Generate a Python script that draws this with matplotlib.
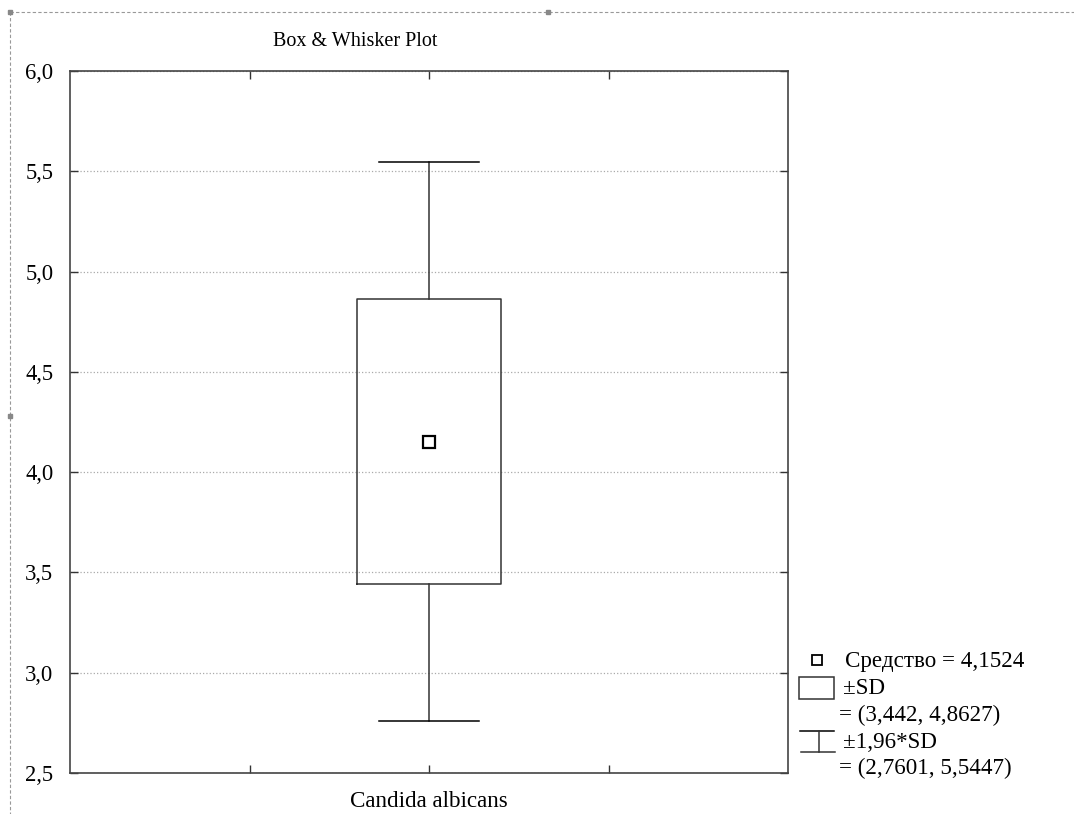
import matplotlib.pyplot as plt
from matplotlib.lines import Line2D
from matplotlib.patches import Rectangle
from matplotlib.ticker import FuncFormatter

# data
group = 'Candida albicans'
mean_val = 4.1524
sd_low, sd_high = 3.442, 4.8627
ci_low, ci_high = 2.7601, 5.5447
y_ticks = [2.5, 3.0, 3.5, 4.0, 4.5, 5.0, 5.5, 6.0]

plt.rcParams['font.family'] = ['Liberation Serif', 'DejaVu Serif']
fs = 14.5
fs_big = 16.6
dark = '#333333'

fig = plt.figure(figsize=(10.74, 8.14), dpi=100)
ax = fig.add_axes([70 / 1074, 1 - 773 / 814, 718 / 1074, 702 / 814])

stats = [{'med': mean_val, 'mean': mean_val, 'q1': sd_low, 'q3': sd_high,
          'whislo': ci_low, 'whishi': ci_high, 'label': group}]
ax.bxp(stats, positions=[2], widths=0.8, showmeans=True, showfliers=False,
       capwidths=0.56,
       boxprops=dict(color=dark, linewidth=1.1),
       whiskerprops=dict(color=dark, linewidth=1.1),
       capprops=dict(color='black', linewidth=1.1),
       medianprops=dict(linewidth=0),
       meanprops=dict(marker='s', markersize=8, markerfacecolor='white',
                      markeredgecolor='black', markeredgewidth=1.6))

ax.set_xlim(0, 4)
ax.set_ylim(2.5, 6.0)
ax.set_yticks(y_ticks)
ax.yaxis.set_major_formatter(FuncFormatter(lambda v, p: f'{v:.1f}'.replace('.', ',')))
ax.set_xticks([1, 2, 3])
ax.set_xticklabels(['', group, ''])
ax.tick_params(axis='both', direction='in', length=6, width=1, color=dark,
               top=True, right=True)
ax.tick_params(axis='y', labelsize=16.3, pad=12)
ax.tick_params(axis='x', labelsize=fs_big, pad=13)
for s in ax.spines.values():
    s.set_color('#444444')
    s.set_linewidth(1.2)
ax.yaxis.grid(True, linestyle=':', color='#aaaaaa', linewidth=0.9)
ax.set_axisbelow(True)

fig.text(355 / 1074, 1 - 42 / 814, 'Box & Whisker Plot', ha='center', va='center', fontsize=fs)

# legend drawn at the right
def fx(x):
    return x / 1074

def fy(y):
    return 1 - y / 814

fig.add_artist(Line2D([fx(817)], [fy(660)], marker='s', markersize=7,
                      markerfacecolor='white', markeredgecolor='black',
                      markeredgewidth=1.3, transform=fig.transFigure))
fig.add_artist(Rectangle((fx(799), fy(699)), fx(834) - fx(799), fy(677) - fy(699),
                         fill=False, edgecolor=dark, linewidth=1.1,
                         transform=fig.transFigure))
fig.add_artist(Line2D([fx(800), fx(834)], [fy(731), fy(731)], color='black', lw=1.1,
                      transform=fig.transFigure))
fig.add_artist(Line2D([fx(801), fx(835)], [fy(752), fy(752)], color=dark, lw=1.1,
                      transform=fig.transFigure))
fig.add_artist(Line2D([fx(819), fx(819)], [fy(731), fy(752)], color=dark, lw=1.1,
                      transform=fig.transFigure))

fmt = lambda v: f'{v}'.replace('.', ',')
fig.text(fx(845), fy(662), f'Средство = {fmt(mean_val)}', va='center', fontsize=fs_big)
fig.text(fx(843), fy(688), '±SD', va='center', fontsize=fs_big)
fig.text(fx(839), fy(715), f'= ({fmt(sd_low)}, {fmt(sd_high)})', va='center', fontsize=fs_big)
fig.text(fx(843), fy(742), '±1,96*SD', va='center', fontsize=fs_big)
fig.text(fx(839), fy(768), f'= ({fmt(ci_low)}, {fmt(ci_high)})', va='center', fontsize=fs_big)

# dashed selection frame
fig.add_artist(Line2D([fx(10), fx(1074)], [fy(12), fy(12)], color='#999999', lw=0.8,
                      linestyle=(0, (3, 2)), transform=fig.transFigure))
fig.add_artist(Line2D([fx(10), fx(10)], [fy(12), fy(814)], color='#999999', lw=0.8,
                      linestyle=(0, (3, 2)), transform=fig.transFigure))
for hx, hy in [(10, 12), (548, 12), (10, 416)]:
    fig.add_artist(Line2D([fx(hx)], [fy(hy)], marker='s', markersize=3, color='#888888',
                          transform=fig.transFigure))

fig.savefig('out.png', dpi=100)
